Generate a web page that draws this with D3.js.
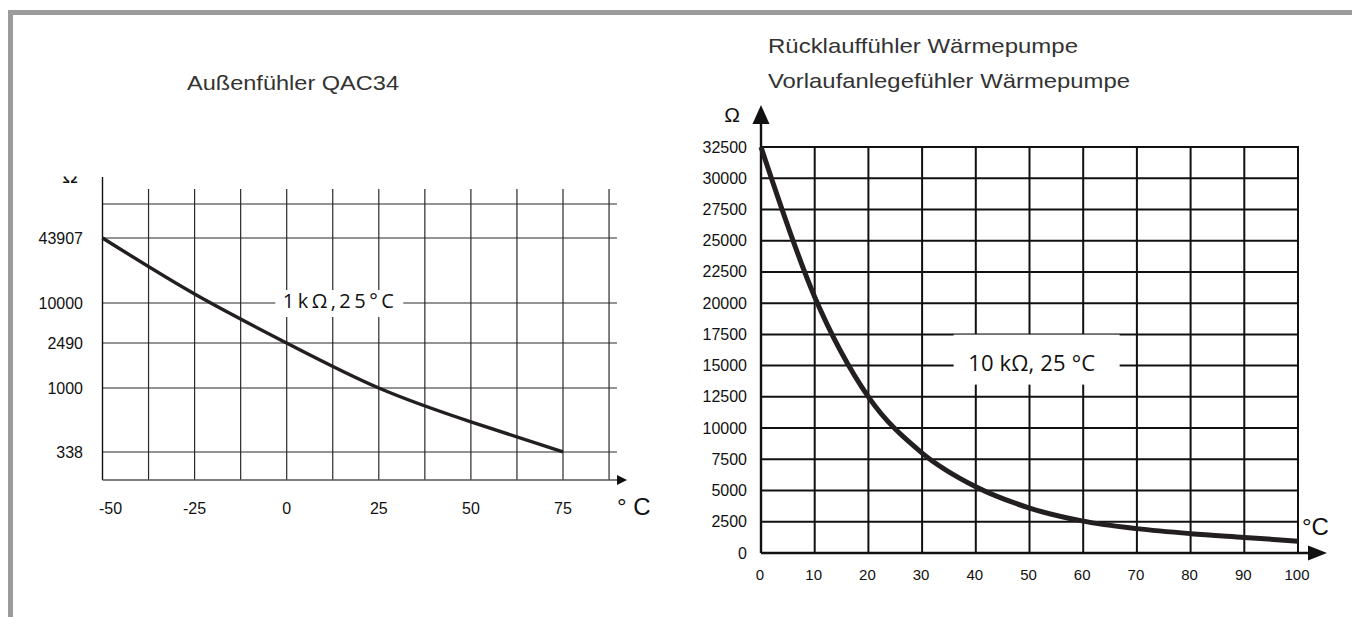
<!DOCTYPE html>
<html>
<head>
<meta charset="utf-8">
<script src="https://cdn.jsdelivr.net/npm/d3@7"></script>
<style>
  html, body { margin: 0; padding: 0; background: #fff; }
  svg { display: block; }
  text { font-family: "Liberation Sans", Arial, sans-serif; fill: #111; }
  .title { fill: #333; }
  .note { font-family: "Open Sans", "DejaVu Sans", sans-serif; }
</style>
</head>
<body>
<div id="chart"></div>
<script>
// Außenfühler QAC34 (left)
const tempL = [-50, -25, 0, 25, 50, 75];
const ohmL = [43907, 14700, 2490, 1000, 650, 338];
const xTicksL = [-50, -25, 0, 25, 50, 75];
const xGridL = [-37.5, -25, -12.5, 0, 12.5, 25, 37.5, 50, 62.5, 75, 87.5];
const yTicksL = [338, 1000, 2490, 10000, 43907];

// Rücklauf / Vorlauf Wärmepumpe (right)
const tempR = [0, 10, 20, 30, 40, 50, 60, 70, 80, 90, 100];
const ohmR = [32500, 20500, 12500, 8000, 5300, 3600, 2550, 1950, 1550, 1250, 950];
const xTicksR = [0, 10, 20, 30, 40, 50, 60, 70, 80, 90, 100];
const yTicksR = [0, 2500, 5000, 7500, 10000, 12500, 15000, 17500, 20000, 22500, 25000, 27500, 30000, 32500];

const width = 1352, height = 617;

const svg = d3.select('#chart').append('svg')
  .attr('width', width)
  .attr('height', height);

svg.append('rect').attr('width', width).attr('height', height).attr('fill', '#fff');

// gray frame (top + left edge only visible)
svg.append('path')
  .attr('d', `M10.5,${height + 5} L10.5,12.5 L${width + 5},12.5`)
  .attr('fill', 'none')
  .attr('stroke', '#9b9b9b')
  .attr('stroke-width', 5);

/* ---------------- left chart ---------------- */
const xL = d3.scaleLinear().domain([-50, 75]).range([102.5, 563]);
// the printed axis is not linear nor log, so map it piecewise through the labelled values
const yL = d3.scaleLinear()
  .domain([0, 338, 1000, 2490, 10000, 43907, 100000])
  .range([480, 452, 388, 343, 303, 238, 204]);

const gL = svg.append('g');
const gridRight = 617;
const yTopL = yL.domain()[yL.domain().length - 1];

gL.selectAll('.hgrid')
  .data(yTicksL.concat([yTopL]))
  .enter().append('line')
  .attr('x1', xL(-50)).attr('x2', gridRight)
  .attr('y1', d => yL(d)).attr('y2', d => yL(d))
  .attr('stroke', '#2a2a2a').attr('stroke-width', 1.2);

gL.selectAll('.vgrid')
  .data(xGridL)
  .enter().append('line')
  .attr('x1', d => xL(d)).attr('x2', d => xL(d))
  .attr('y1', yL(yTopL) - 15).attr('y2', yL(0))
  .attr('stroke', '#2a2a2a').attr('stroke-width', 1.2);

// label box on the 10000 line
const noteL = { x: xL(14), y: yL(10000) };
gL.append('rect')
  .attr('x', noteL.x - 63).attr('y', noteL.y - 13)
  .attr('width', 128).attr('height', 27)
  .attr('fill', '#fff');

// axes
gL.append('line')
  .attr('x1', xL(-50)).attr('x2', xL(-50))
  .attr('y1', yL(yTopL) - 27).attr('y2', yL(0))
  .attr('stroke', '#111').attr('stroke-width', 1.4);
gL.append('line')
  .attr('x1', xL(-50)).attr('x2', gridRight + 2)
  .attr('y1', yL(0)).attr('y2', yL(0))
  .attr('stroke', '#555').attr('stroke-width', 1.6);
gL.append('path')
  .attr('d', `M${gridRight},${yL(0) - 5} L${gridRight + 10},${yL(0)} L${gridRight},${yL(0) + 5} Z`)
  .attr('fill', '#111');

const lineL = d3.line()
  .x((d, i) => xL(tempL[i]))
  .y(d => yL(d))
  .curve(d3.curveNatural);

gL.append('path')
  .datum(ohmL)
  .attr('d', lineL)
  .attr('fill', 'none')
  .attr('stroke', '#231f20')
  .attr('stroke-width', 3.4);

gL.selectAll('.ylab')
  .data(yTicksL)
  .enter().append('text')
  .attr('x', 83).attr('y', d => yL(d) + 5.5)
  .attr('text-anchor', 'end')
  .attr('font-size', 16)
  .text(d => d);

gL.selectAll('.xlab')
  .data(xTicksL)
  .enter().append('text')
  .attr('x', d => xL(d) + (d === xTicksL[0] ? 8 : 0))
  .attr('y', 514)
  .attr('text-anchor', 'middle')
  .attr('font-size', 16)
  .text(d => d);

gL.append('text')
  .attr('x', gridRight).attr('y', 515)
  .attr('font-size', 24)
  .text('° C');

// Ω label cut off at the top, as in the scan
svg.append('clipPath').attr('id', 'omegaClip')
  .append('rect').attr('x', 50).attr('y', 176.5).attr('width', 40).attr('height', 20);
gL.append('text')
  .attr('clip-path', 'url(#omegaClip)')
  .attr('x', 70).attr('y', 183)
  .attr('text-anchor', 'middle')
  .attr('font-size', 21)
  .text('Ω');

gL.append('text')
  .attr('class', 'note')
  .attr('x', noteL.x).attr('y', noteL.y + 4.5)
  .attr('text-anchor', 'middle')
  .attr('font-size', 20)
  .attr('textLength', 111)
  .attr('lengthAdjust', 'spacing')
  .text('1kΩ,25°C');

gL.append('text')
  .attr('class', 'title')
  .attr('x', 187).attr('y', 90)
  .attr('font-size', 21)
  .attr('textLength', 212)
  .attr('lengthAdjust', 'spacingAndGlyphs')
  .text('Außenfühler QAC34');

/* ---------------- right chart ---------------- */
const xR = d3.scaleLinear().domain([0, 100]).range([761, 1298]);
const yR = d3.scaleLinear().domain([0, 32500]).range([553, 147]);
const gR = svg.append('g');

gR.selectAll('.hgrid')
  .data(yTicksR.slice(1))
  .enter().append('line')
  .attr('x1', xR(0)).attr('x2', xR(100))
  .attr('y1', d => yR(d)).attr('y2', d => yR(d))
  .attr('stroke', '#111').attr('stroke-width', 2);

gR.selectAll('.vgrid')
  .data(xTicksR.slice(1))
  .enter().append('line')
  .attr('x1', d => xR(d)).attr('x2', d => xR(d))
  .attr('y1', yR(32500) - 1).attr('y2', yR(0))
  .attr('stroke', '#111').attr('stroke-width', 2);

const noteR = { x: xR(50.4), y: yR(15000) };
gR.append('rect')
  .attr('x', noteR.x - 78).attr('y', noteR.y - 31)
  .attr('width', 166).attr('height', 50)
  .attr('fill', '#fff');

// axes with arrows
gR.append('line')
  .attr('x1', xR(0)).attr('x2', xR(0))
  .attr('y1', yR(0)).attr('y2', 120)
  .attr('stroke', '#111').attr('stroke-width', 2.4);
gR.append('path')
  .attr('d', `M${xR(0)},105 L${xR(0) + 8.5},124 L${xR(0) - 8.5},124 Z`)
  .attr('fill', '#111');
gR.append('line')
  .attr('x1', xR(0)).attr('x2', 1312)
  .attr('y1', yR(0)).attr('y2', yR(0))
  .attr('stroke', '#111').attr('stroke-width', 2.4);
gR.append('path')
  .attr('d', `M1308,${yR(0) - 7.5} L1327,${yR(0)} L1308,${yR(0) + 7.5} Z`)
  .attr('fill', '#111');

const lineR = d3.line()
  .x((d, i) => xR(tempR[i]))
  .y(d => yR(d))
  .curve(d3.curveMonotoneX);

gR.append('path')
  .datum(ohmR)
  .attr('d', lineR)
  .attr('fill', 'none')
  .attr('stroke', '#231f20')
  .attr('stroke-width', 5);

gR.selectAll('.ylab')
  .data(yTicksR)
  .enter().append('text')
  .attr('x', 747).attr('y', d => yR(d) + 5.5)
  .attr('text-anchor', 'end')
  .attr('font-size', 16)
  .text(d => d);

gR.selectAll('.xlab')
  .data(xTicksR)
  .enter().append('text')
  .attr('x', d => xR(d) - 1)
  .attr('y', 580)
  .attr('text-anchor', 'middle')
  .attr('font-size', 15)
  .text(d => d);

gR.append('text')
  .attr('x', 1302).attr('y', 535)
  .attr('font-size', 24)
  .text('°C');

gR.append('text')
  .attr('x', 732).attr('y', 122)
  .attr('text-anchor', 'middle')
  .attr('font-size', 21)
  .text('Ω');

gR.append('text')
  .attr('class', 'note')
  .attr('x', noteR.x).attr('y', noteR.y + 5)
  .attr('text-anchor', 'middle')
  .attr('font-size', 22)
  .attr('textLength', 127)
  .attr('lengthAdjust', 'spacing')
  .text('10 kΩ, 25 °C');

gR.append('text')
  .attr('class', 'title')
  .attr('x', 768).attr('y', 53)
  .attr('font-size', 21)
  .attr('textLength', 310)
  .attr('lengthAdjust', 'spacingAndGlyphs')
  .text('Rücklauffühler Wärmepumpe');

gR.append('text')
  .attr('class', 'title')
  .attr('x', 768).attr('y', 88)
  .attr('font-size', 21)
  .attr('textLength', 362)
  .attr('lengthAdjust', 'spacingAndGlyphs')
  .text('Vorlaufanlegefühler Wärmepumpe');
</script>
</body>
</html>
